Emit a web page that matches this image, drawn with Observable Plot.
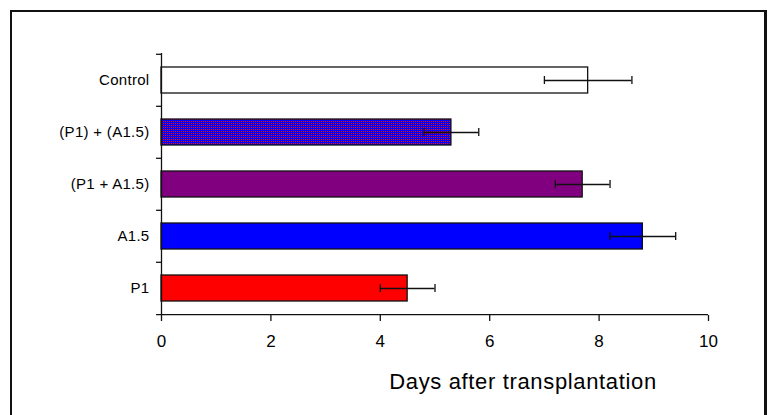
<!DOCTYPE html>
<html>
<head>
<meta charset="utf-8">
<script src="https://cdn.jsdelivr.net/npm/d3@7"></script>
<script src="https://cdn.jsdelivr.net/npm/@observablehq/plot@0.6"></script>
<style>
  html, body { margin: 0; padding: 0; background: #fff; }
  #wrap { position: relative; width: 769px; height: 415px; overflow: hidden; }
  #border { position: absolute; left: 10px; top: 10px; width: 752px; height: 420px;
            border-left: 2px solid #111; border-top: 2px solid #111; border-right: 3px solid #111; }
  svg { font-family: "Liberation Sans", Arial, sans-serif; }
  g[aria-label="text"] text { letter-spacing: 0.65px; }
  g[aria-label="y-axis tick label"] text { letter-spacing: 0.3px; }
</style>
</head>
<body>
<svg width="0" height="0" style="position:absolute">
  <defs>
    <pattern id="dither" x="0" y="0" width="2" height="2" patternUnits="userSpaceOnUse">
      <rect x="0" y="0" width="2" height="2" style="fill:#0000ff"></rect>
      <rect x="1" y="1" width="1" height="1" style="fill:#ff0000"></rect>
    </pattern>
  </defs>
</svg>
<div id="wrap"><div id="border"></div><div id="chart"></div></div>
<script>
const categories = ["Control", "(P1) + (A1.5)", "(P1 + A1.5)", "A1.5", "P1"];
const means = [7.8, 5.3, 7.7, 8.8, 4.5];
const errors = [0.8, 0.5, 0.5, 0.6, 0.5];
const fills = ["#ffffff", "url(#dither)", "#800080", "#0000ff", "#ff0000"];
const xTicks = [0, 2, 4, 6, 8, 10];
const xTitle = "Days after transplantation";

const data = categories.map((c, i) => ({
  cat: c, mean: means[i], lo: means[i] - errors[i], hi: means[i] + errors[i], fill: fills[i]
}));

const chart = Plot.plot({
  width: 769,
  height: 415,
  marginLeft: 161,
  marginRight: 61,
  marginTop: 53,
  marginBottom: 100,
  style: { fontFamily: "'Liberation Sans', Arial, sans-serif", background: "transparent", color: "#000" },
  x: { domain: [0, 10] },
  y: { domain: categories, paddingInner: 0.5, paddingOuter: 0.25 },
  color: { type: "identity" },
  marks: [
    Plot.barX(data, { y: "cat", x: "mean", fill: "fill", stroke: "#111", strokeWidth: 1.3 }),
    Plot.ruleY(data, { y: "cat", x1: "lo", x2: "hi", stroke: "#111", strokeWidth: 1.3 }),
    Plot.tickX(data, { y: "cat", x: "lo", stroke: "#111", strokeWidth: 1.3, insetTop: 9, insetBottom: 9 }),
    Plot.tickX(data, { y: "cat", x: "hi", stroke: "#111", strokeWidth: 1.3, insetTop: 9, insetBottom: 9 }),
    Plot.ruleX([0], { stroke: "#111", strokeWidth: 1.3 }),
    Plot.ruleY(categories, { y: d => d, x1: -0.09, x2: 0, dy: -26.2, stroke: "#111", strokeWidth: 1.3 }),
    Plot.ruleY([categories[categories.length - 1]], { y: d => d, x1: -0.09, x2: 10, dy: 26.2, stroke: "#111", strokeWidth: 1.3 }),
    Plot.axisY({ tickSize: 0, tickPadding: 12, fontSize: 15, label: null }),
    Plot.axisX({ ticks: xTicks, tickSize: 6, tickPadding: 13, fontSize: 17, label: null, stroke: "#111", strokeWidth: 1.3 }),
    Plot.text([xTitle], { text: d => d, frameAnchor: "bottom", dx: 88, dy: 66, fontSize: 22, lineAnchor: "middle", fill: "#000" })
  ]
});

document.getElementById("chart").appendChild(chart);
</script>
</body>
</html>
